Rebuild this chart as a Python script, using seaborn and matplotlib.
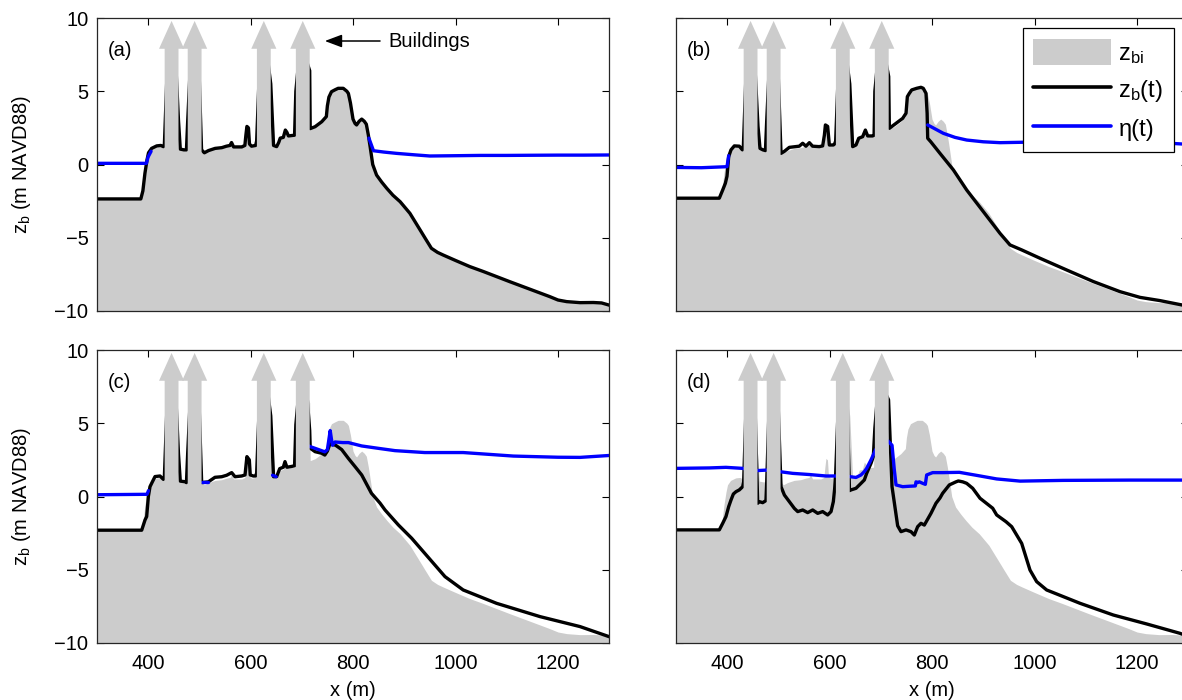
import numpy as np
import pandas as pd
import matplotlib
matplotlib.use("Agg")
import matplotlib.pyplot as plt
from matplotlib.patches import Polygon, Patch
from matplotlib.lines import Line2D
import seaborn as sns

nan = np.nan

# ---------------------------------------------------------------- data
# Initial bed elevation z_bi (m NAVD88) along the cross-shore transect x (m).
# Inside the four buildings the bed is raised to the shaft height.
zbi_x = [300, 386, 390, 394, 398, 401, 407, 417, 425, 430, 432, 438, 454, 459.5, 463, 470, 475,
         477.5, 483, 499, 504.5, 510, 518, 531, 544, 553, 560, 563, 567, 583, 589, 591, 593, 596, 598,
         602, 610, 612, 618, 634, 639.5, 645, 651, 655, 658, 664, 668, 671, 674, 686, 688.5, 694,
         710, 715.5, 716.5, 726, 739, 748, 750, 753, 758, 765, 771, 781, 788, 791, 795, 800,
         804, 807, 812, 817, 822, 826, 830, 833.5, 838.5, 846, 856, 866, 878, 892, 911, 921,
         931, 942, 953, 965, 976, 1000, 1028, 1054, 1080, 1106, 1132, 1158, 1184, 1200, 1217,
         1243, 1269, 1285, 1300]
zbi_z = [-2.35, -2.35, -1.8, -0.6, 0.3, 0.8, 1.1, 1.27, 1.3, 1.22, 1.4, 7, 7, 3.0, 1.05, 1.0, 1.0,
         3.0, 7, 7, 1.0, 0.8, 0.95, 1.1, 1.15, 1.25, 1.3, 1.5, 1.2, 1.2, 1.3, 2.0, 2.6, 2.5, 1.4,
         1.25, 1.3, 1.6, 7, 7, 5.5, 1.3, 1.22, 1.5, 1.8, 1.85, 2.35, 2.2, 1.95, 2.0, 5.0, 7,
         7, 6.4, 2.45, 2.58, 2.92, 3.27, 4.0, 4.6, 4.97, 5.1, 5.2, 5.2, 5.0, 4.85, 4.2, 3.1,
         2.8, 2.7, 2.95, 3.1, 2.95, 2.75, 2.0, 1.2, 0.0, -0.72, -1.2, -1.63, -2.1, -2.54, -3.33, -3.9,
         -4.47, -5.1, -5.72, -6.0, -6.18, -6.55, -6.97, -7.3, -7.65, -8.0, -8.34, -8.68, -9.02, -9.25, -9.36,
         -9.43, -9.42, -9.45, -9.6]

# Bed z_b(t) at the later snapshots (b), (c), (d); snapshot (a) is the initial bed.
zb_b_x = [300, 385, 391.6, 396.8, 400, 403.3, 407.8, 414.3, 424, 430, 432, 438, 454, 460.5, 464.4,
          470, 475, 477.5, 483, 499, 505.4, 512, 521.6, 541, 547.7, 554, 560.7, 567, 580, 586.7, 590,
          592, 596.4, 599.7, 607.5, 610, 612, 618, 634, 639.5, 645.2, 651.7, 657, 664.7, 670, 674.5,
          684, 687, 688.5, 694, 710, 715.5, 716.8, 729.8, 742.8, 749.3, 751.9, 755.8, 760.4, 770,
          778.5, 783, 788.3, 790.5, 791.6, 797.4, 815.6, 841.7, 867.7, 900.2, 932.7, 952.2, 975,
          1010.8, 1062.8, 1114.8, 1166.9, 1205.9, 1244.9, 1288, 1300]
zb_b_z = [-2.3, -2.3, -1.74, -1.28, -0.8, 0.54, 1.0, 1.27, 1.25, 1.0, 1.3, 7, 7, 2.6, 1.1,
          1.0, 0.95, 3.0, 7, 7, 0.76, 0.9, 1.17, 1.25, 1.45, 1.25, 1.49, 1.25, 1.22, 1.27, 2.0,
          2.7, 2.6, 1.33, 1.33, 1.4, 1.6, 7, 7, 5.5, 1.22, 1.33, 1.79, 1.9, 2.35, 1.95,
          1.95, 2.0, 5.0, 7, 7, 6.0, 2.47, 2.81, 3.15, 3.5, 4.63, 4.86, 5.09, 5.2,
          5.27, 5.2, 4.86, 3.5, 1.79, 1.56, 0.76, -0.37, -1.74, -3.22, -4.7, -5.49, -5.83,
          -6.4, -7.2, -7.99, -8.68, -9.07, -9.29, -9.59, -9.65]

zb_c_x = [300, 387.7, 394.2, 397.4, 400.7, 403.9, 408.5, 413.7, 423.4, 430, 432, 438, 454, 459.5,
          463, 474, 475, 477.5, 483, 499, 504.7, 517.7, 530.7, 543.8, 553.5, 563.3, 569.8, 582.8,
          589.3, 593, 597.7, 599.5, 605.5, 610, 612, 618, 634, 639.5, 645, 651, 657, 664, 667.3,
          671, 680, 686, 688.5, 694, 710, 715.5, 716.5, 726, 739, 745, 750, 755, 760, 766, 778,
          791, 804, 817, 836, 852.7, 862.5, 888.5, 914.5, 979.5, 1015, 1080, 1165, 1243, 1300]
zb_c_z = [-2.3, -2.3, -1.6, -1.37, 0.0, 0.67, 1.0, 1.36, 1.4, 1.17, 1.4, 7, 7, 2.9,
          1.05, 1.0, 0.95, 3.0, 7, 7, 0.95, 1.0, 1.31, 1.35, 1.45, 1.63, 1.35, 1.4,
          1.47, 2.72, 2.5, 1.47, 1.4, 1.4, 1.6, 7, 7, 5.5, 1.35, 1.35, 1.9, 2.0, 2.38,
          2.0, 2.05, 2.1, 4.9, 7, 7, 4.5, 3.3, 3.06, 2.95, 2.83, 3.1, 3.6, 3.55, 3.5, 3.2,
          2.6, 2.04, 1.47, 0.22, -0.45, -0.92, -1.94, -2.85, -5.47, -6.38, -7.29, -8.2, -8.88, -9.57]

zb_d_x = [300, 385, 391.6, 398, 403.3, 407.8, 412.4, 417.6, 424, 430.6, 432.5, 438, 454, 459.9, 463,
          469.6, 476, 477.5, 483, 499, 505.4, 512, 521.6, 531.4, 538, 547.7, 557.4, 567.2, 577, 586.7,
          596.4, 603, 607.5, 610, 612, 618, 634, 639, 642, 651.7, 661.5, 668, 672.5, 681, 685.5,
          688.5, 694, 710, 715.2, 722, 733, 739.5, 749.3, 759, 765.5, 772, 778.5, 785, 798,
          807.8, 815.6, 820.8, 833.8, 846.8, 851.4, 860, 867.6, 879.4, 893.7, 918.4, 926.2,
          944.4, 955.5, 975, 991.2, 1004.2, 1023.7, 1088.8, 1153.8, 1218.9, 1283.9, 1300]
zb_d_z = [-2.28, -2.28, -1.83, -1.37, -0.69, -0.24, 0.17, 0.33, 0.45, 0.67, 1.0, 7, 7, -0.46, -0.35,
          -0.42, -0.28, 1.0, 7, 7, 0.67, 0.1, -0.35, -0.81, -1.03, -0.92, -1.1, -0.92, -1.15, -1.03,
          -1.26, -1.03, -0.35, 0.5, 1.5, 7, 7, 0.4, 0.45, 0.56, 0.9, 1.13, 1.58, 2.27, 2.72,
          4.65, 7, 7, 6.6, 0.67, -2.0, -2.4, -2.28, -2.4, -2.63, -2.06, -1.83, -1.95, -1.15,
          -0.46, -0.1, 0.22, 0.79, 1.0, 1.06, 1.0, 0.9, 0.56, -0.12, -0.8, -1.26,
          -1.72, -2.06, -3.2, -5.02, -5.81, -6.38, -7.29, -8.09, -8.7, -9.34, -9.55]

# Water surface elevation eta(t); NaN marks where the surface is dry / broken.
eta_a_x = [300, 397, 400, 406, nan, 831, 840, 860, 885, 920, 950, 1000, 1048, 1100, 1145,
           1200, 1250, 1300]
eta_a_z = [0.08, 0.08, 0.5, 0.9, nan, 1.8, 0.94, 0.85, 0.76, 0.66, 0.58, 0.6, 0.62, 0.62, 0.63,
           0.64, 0.64, 0.65]

eta_b_x = [300, 350, 400, 402, 403.3, nan, 791.6, 805, 822, 845, 867.7, 900, 932.7, 980, 1030,
           1065, 1102, 1150, 1193, 1240, 1288, 1300]
eta_b_z = [-0.2, -0.22, -0.15, 0.3, 0.6, nan, 2.7, 2.45, 2.13, 1.85, 1.67, 1.55, 1.49, 1.52, 1.56,
           1.48, 1.38, 1.45, 1.56, 1.5, 1.4, 1.38]

eta_c_x = [300, 398, 401, nan, 505, 517, nan, 643, 650, nan, 713, 725, 745, 750, 753, 755.5,
           758, 760, 765, 780, 791, 817, 849, 882, 940, 1015, 1113, 1200, 1243, 1300]
eta_c_z = [0.12, 0.15, 0.4, nan, 1.0, 1.0, nan, 1.45, 1.35, nan, 3.45, 3.3, 3.05, 3.2, 3.9, 4.5,
           3.9, 3.5, 3.72, 3.68, 3.68, 3.45, 3.29, 3.13, 3.0, 3.0, 2.76, 2.68, 2.67, 2.8]

eta_d_x = [300, 365.5, 398, 430.6, 460, 476, 502, 528, 560.7, 593, 609.4, 638.7, 651.7, 661.5,
           668, 672.5, 681, 687.5, 690, 714, 715.5, 722, 726.5, 729.8, 742.8, 755.8, 767.5,
           768.8, 772, 775.3, 781.8, 787, 789.6, 801.3, 820.8, 853.4, 886, 926, 972, 1056,
           1186, 1300]
eta_d_z = [1.92, 1.95, 1.99, 1.92, 1.77, 1.8, 1.7, 1.58, 1.5, 1.4, 1.4, 1.36, 1.3, 1.47,
           1.7, 1.92, 2.5, 3.0, 3.2, 3.8, 3.74, 3.5, 1.81, 0.79, 0.67, 0.7, 0.72,
           1.0, 0.95, 1.0, 0.9, 0.83, 1.47, 1.63, 1.63, 1.65, 1.45, 1.2, 1.05, 1.1,
           1.12, 1.12]

building_x = [446, 491, 626, 702]          # building centres (m)
panel_tags = ["(a)", "(b)", "(c)", "(d)"]
x_ticks = [400, 600, 800, 1000, 1200]
y_ticks = [-10, -5, 0, 5, 10]
legend_labels = [r"$\mathregular{z_{bi}}$", r"$\mathregular{z_b(t)}$", "η(t)"]

# ---------------------------------------------------------------- style
GRAY = "#cccccc"
BLUE = "#0000ff"
sns.set_style("ticks")
plt.rcParams["font.family"] = ["Liberation Sans", "DejaVu Sans"]
plt.rcParams["axes.edgecolor"] = "#262626"
plt.rcParams["axes.linewidth"] = 0.9
for key in ("text.color", "axes.labelcolor", "xtick.color", "ytick.color"):
    plt.rcParams[key] = "black"
FS = 14.5


def to_frame(xs, zs):
    df = pd.DataFrame({"x": xs, "z": zs})
    df["seg"] = df["z"].isna().cumsum()
    return df.dropna()


beds = [(zbi_x, zbi_z), (zb_b_x, zb_b_z), (zb_c_x, zb_c_z), (zb_d_x, zb_d_z)]
etas = [(eta_a_x, eta_a_z), (eta_b_x, eta_b_z), (eta_c_x, eta_c_z), (eta_d_x, eta_d_z)]

fig = plt.figure(figsize=(11.82, 7), dpi=100)
W, H = 512.5 / 1182, 293 / 700
lefts = [96.75 / 1182, 675.75 / 1182]
bottoms = [1 - 311 / 700, 1 - 643 / 700]

axes = []
for i in range(4):
    row, col = divmod(i, 2)
    ax = fig.add_axes([lefts[col], bottoms[row], W, H])
    axes.append(ax)

    ax.fill_between(zbi_x, -10, zbi_z, color=GRAY, lw=0, zorder=1)
    sns.lineplot(data=to_frame(*beds[i]), x="x", y="z", units="seg", estimator=None,
                 sort=False, color="black", lw=2.4, ax=ax, zorder=2, legend=False)
    sns.lineplot(data=to_frame(*etas[i]), x="x", y="z", units="seg", estimator=None,
                 sort=False, color=BLUE, lw=2.4, ax=ax, zorder=2.1, legend=False)

    # buildings drawn as upward arrows
    for c in building_x:
        shaft, head = 13.5, 24.5
        pts = [(c - shaft, -10), (c + shaft, -10), (c + shaft, 7.9), (c + head, 7.9),
               (c, 9.8), (c - head, 7.9), (c - shaft, 7.9)]
        ax.add_patch(Polygon(pts, closed=True, facecolor=GRAY, edgecolor="none", zorder=2.3))

    ax.set_xlim(300, 1300)
    ax.set_ylim(-10, 10)
    ax.set_xticks(x_ticks)
    ax.set_yticks(y_ticks)
    ax.tick_params(direction="in", top=True, right=True, length=5, width=0.8,
                   labelsize=FS, pad=6)
    ax.tick_params(axis="x", pad=8)
    for s in ax.spines.values():
        s.set_zorder(3)
    ax.text(322, 7.8, panel_tags[i], ha="left", va="center", fontsize=FS, zorder=4)

    if row == 0:
        ax.set_xticklabels([])
        ax.set_xlabel("")
    else:
        ax.set_xlabel("x (m)", fontsize=FS)
        ax.xaxis.set_label_coords(0.5, -0.128)
    if col == 1:
        ax.set_yticklabels([])
        ax.set_ylabel("")
    else:
        ax.set_ylabel(r"$\mathregular{z_b}$ (m NAVD88)", fontsize=FS)
        ax.yaxis.set_label_coords(-0.125, 0.5)

axes[0].annotate("Buildings", xy=(745, 8.43), xytext=(870, 8.43), va="center", ha="left",
                 fontsize=FS, zorder=4,
                 arrowprops=dict(arrowstyle="-|>,head_length=0.8,head_width=0.3",
                                 color="black", lw=1.1, mutation_scale=13,
                                 shrinkA=4, shrinkB=0))

handles = [Patch(facecolor=GRAY, edgecolor="none"),
           Line2D([], [], color="black", lw=2.6),
           Line2D([], [], color=BLUE, lw=2.6)]
leg = axes[1].legend(handles, legend_labels, loc="upper right",
                     bbox_to_anchor=(0.972, 0.966), fontsize=17, frameon=True,
                     fancybox=False, edgecolor="black", framealpha=1,
                     handlelength=3.3, handleheight=1.35, labelspacing=0.45,
                     handletextpad=0.3, borderpad=0.45, borderaxespad=0)
leg.get_frame().set_linewidth(0.9)
leg.set_zorder(5)

fig.savefig("out.png", dpi=100)
